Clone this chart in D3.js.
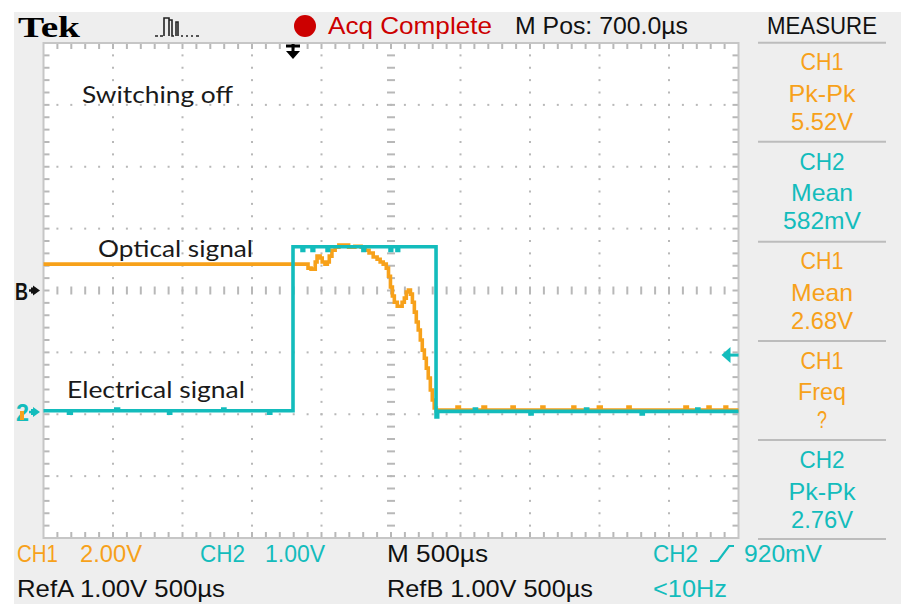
<!DOCTYPE html>
<html><head><meta charset="utf-8">
<script src="https://cdn.jsdelivr.net/npm/d3@7"></script>
<style>html,body{margin:0;padding:0;background:#fff;} svg{display:block;}</style>
</head><body>
<svg id="c" width="901" height="604"></svg>
<script>
// ---------- DATA ----------
const timePerDivUs = 500;       // M 500µs
const numDivX = 10;
const numDivY = 8;
const ch1VoltsPerDiv = 2.0;     // CH1 2.00V
const ch2VoltsPerDiv = 1.0;     // CH2 1.00V
const ch1OffsetDiv = -1.964;
const ch2OffsetDiv = -1.964;
const refBOffsetDiv = 0;
const triggerTimeUs = 1795;
const triggerLevelV = 0.92;     // 920mV

// CH1 (optical signal) [time µs, volts]
const ch1Trace = [
  [0,4.78],[1903,4.65],[1925,4.62],[1955,4.85],[1968,5.04],[1990,4.98],[2005,4.85],[2025,4.78],
  [2042,4.85],[2056,5.04],[2075,5.23],[2098,5.33],[2125,5.40],[2195,5.33],[2240,5.36],[2285,5.33],
  [2315,5.23],[2342,5.14],[2372,5.01],[2400,4.94],[2422,4.85],[2444,4.78],[2466,4.65],[2482,4.39],
  [2496,4.04],[2510,3.75],[2524,3.55],[2545,3.42],[2580,3.55],[2596,3.68],[2610,3.88],[2625,3.94],
  [2640,3.81],[2654,3.55],[2668,3.23],[2682,2.91],[2696,2.65],[2711,2.33],[2725,2.00],[2740,1.74],
  [2754,1.42],[2768,1.10],[2783,0.71],[2797,0.39],[2811,0.13],[2826,0.03],[2846,0.06],
  [2975,0.16],[2992,0.06],[3162,0.16],[3180,0.06],[3371,0.16],[3386,0.06],[3586,0.16],[3600,0.06],
  [3809,0.16],[3822,0.06],[3992,0.16],[4012,0.06],[4205,0.16],[4220,0.06],[4615,0.16],[4632,0.06],
  [4781,0.16],[4795,0.06],[4903,0.16],[4915,0.06],[5000,0.06]
];

// CH2 (electrical signal) [time µs, volts]
const ch2Trace = [
  [0,0.02],[180,-0.02],[200,0.02],[520,0.05],[540,0.02],[900,-0.02],[915,0.02],[1290,0.05],
  [1305,0.02],[1620,-0.02],[1635,0.02],[1795,2.67],[1860,2.61],[1872,2.67],[1932,2.61],[1944,2.67],
  [2040,2.61],[2052,2.67],[2298,2.61],[2310,2.67],[2493,2.61],[2505,2.67],[2543,2.61],[2555,2.67],
  [2824,-0.08],[2836,0.01],[3100,0.05],[3115,0.01],[3500,-0.03],[3515,0.01],[3900,0.05],[3915,0.01],
  [4300,-0.03],[4315,0.01],[4700,0.05],[4715,0.01],[5000,0.01]
];

const measureChannels = ["CH1","CH2","CH1","CH1","CH2"];
const measureTypes    = ["Pk-Pk","Mean","Mean","Freq","Pk-Pk"];
const measureValues   = ["5.52V","582mV","2.68V","?","2.76V"];

const annotations = ["Switching off","Optical signal","Electrical signal"];

// ---------- STYLE ----------
const ORANGE = "#f7a11a", CYAN = "#13bcbc", RED = "#cc0000", GRID = "#b8b8b8", PANEL = "#eeeeee";
const FONT = "'Liberation Sans', Arial, sans-serif";

const svg = d3.select("#c");
svg.append("rect").attr("width",901).attr("height",604).attr("fill","#fff");
svg.append("rect").attr("x",14).attr("y",12).attr("width",887).attr("height",592).attr("fill",PANEL);

const L = 43.5, R = 738.5, T = 43, B = 538;
const x = d3.scaleLinear().domain([0, timePerDivUs*numDivX]).range([L, R]);
const y = d3.scaleLinear().domain([-numDivY/2, numDivY/2]).range([B, T]);

svg.append("rect").attr("x",L).attr("y",T).attr("width",R-L).attr("height",B-T).attr("fill","#fff");

const g = svg.append("g");
const minorX = d3.range(1, numDivX*5).map(i => i*timePerDivUs/5);
const minorY = d3.range(1, numDivY*5).map(i => -numDivY/2 + i/5);
const centerT = timePerDivUs*numDivX/2;

// dotted grid
d3.range(1, numDivX).forEach(k => {
  const t = k*timePerDivUs;
  if (t === centerT) return;
  minorY.forEach(v => g.append("rect").attr("x",x(t)-1).attr("y",y(v)-1).attr("width",2).attr("height",2).attr("fill",GRID));
});
d3.range(-numDivY/2+1, numDivY/2).forEach(k => {
  if (k === 0) return;
  minorX.forEach(t => g.append("rect").attr("x",x(t)-1).attr("y",y(k)-1).attr("width",2).attr("height",2).attr("fill",GRID));
});
// center dashes
minorY.forEach(v => g.append("line").attr("x1",x(centerT)-4).attr("x2",x(centerT)+4).attr("y1",y(v)).attr("y2",y(v)).attr("stroke",GRID).attr("stroke-width",2));
minorX.forEach(t => g.append("line").attr("x1",x(t)).attr("x2",x(t)).attr("y1",y(0)-4).attr("y2",y(0)+4).attr("stroke",GRID).attr("stroke-width",2));
// border ticks
minorX.forEach(t => {
  g.append("line").attr("x1",x(t)).attr("x2",x(t)).attr("y1",T).attr("y2",T+6).attr("stroke",GRID).attr("stroke-width",2);
  g.append("line").attr("x1",x(t)).attr("x2",x(t)).attr("y1",B-6).attr("y2",B).attr("stroke",GRID).attr("stroke-width",2);
});
minorY.forEach(v => {
  g.append("line").attr("x1",L).attr("x2",L+6).attr("y1",y(v)).attr("y2",y(v)).attr("stroke",GRID).attr("stroke-width",2);
  g.append("line").attr("x1",R-6).attr("x2",R).attr("y1",y(v)).attr("y2",y(v)).attr("stroke",GRID).attr("stroke-width",2);
});
svg.append("rect").attr("x",L).attr("y",T).attr("width",R-L).attr("height",B-T)
  .attr("fill","none").attr("stroke","#c6c6c6").attr("stroke-width",2);

// traces
const line1 = d3.line().x(d => x(d[0])).y(d => y(ch1OffsetDiv + d[1]/ch1VoltsPerDiv)).curve(d3.curveStepAfter);
const line2 = d3.line().x(d => x(d[0])).y(d => y(ch2OffsetDiv + d[1]/ch2VoltsPerDiv)).curve(d3.curveStepAfter);
svg.append("path").attr("d",line1(ch1Trace)).attr("fill","none").attr("stroke",ORANGE).attr("stroke-width",3.6);
svg.append("path").attr("d",line2(ch2Trace)).attr("fill","none").attr("stroke",CYAN).attr("stroke-width",3.6);

// text helper
function txt(s, px, py, opts) {
  opts = opts || {};
  const t = svg.append("text").attr("x",px).attr("y",py).text(s)
    .attr("font-family", opts.family || FONT).attr("font-size", opts.size || 24)
    .attr("fill", opts.fill || "#111").attr("text-anchor", opts.anchor || "start");
  if (opts.weight) t.attr("font-weight", opts.weight);
  if (opts.w) t.attr("textLength", opts.w).attr("lengthAdjust","spacingAndGlyphs");
  return t;
}

// header
txt("Tek", 18, 37, {family:"'Liberation Serif','DejaVu Serif',serif", weight:"bold", size:30, w:62, fill:"#000"});
svg.append("path").attr("d","M155,36 H158 M160,36 H163 M164,36 V18 H169 V36 M169,20 H172 V36 H174 M176,36 V22 H178 V36 M181,36 H183 M186,36 H188 M191,36 H193 M196,36 H199")
  .attr("fill","none").attr("stroke","#222").attr("stroke-width",1.6);
svg.append("circle").attr("cx",305).attr("cy",26).attr("r",11).attr("fill",RED);
txt("Acq Complete", 328, 33.5, {fill:RED, w:164});
txt("M Pos: 700.0µs", 515, 33.5, {fill:"#111", w:173});
txt("MEASURE", 767, 33.5, {fill:"#111", w:110});

// trigger position marker
const tx = x(triggerTimeUs);
svg.append("line").attr("x1",tx-7).attr("x2",tx+7).attr("y1",46).attr("y2",46).attr("stroke","#000").attr("stroke-width",3);
svg.append("line").attr("x1",tx).attr("x2",tx).attr("y1",44).attr("y2",53).attr("stroke","#000").attr("stroke-width",3);
svg.append("path").attr("d",`M${tx-7},51 L${tx+7},51 L${tx},59 Z`).attr("fill","#000");

// trigger level marker (right)
const ty = y(ch2OffsetDiv + triggerLevelV/ch2VoltsPerDiv);
svg.append("path").attr("d",`M${R-17},${ty} L${R-8},${ty-8} L${R-8},${ty+8} Z`).attr("fill",CYAN);
svg.append("line").attr("x1",R-9).attr("x2",R).attr("y1",ty).attr("y2",ty).attr("stroke",CYAN).attr("stroke-width",3);

// left markers
const by = y(refBOffsetDiv);
txt("B", 15, by+9, {size:24, w:13, weight:"bold", fill:"#111"});
svg.append("path").attr("d",`M33,${by-5} L40,${by} L33,${by+5} Z`).attr("fill","#111");
svg.append("line").attr("x1",29).attr("x2",35).attr("y1",by).attr("y2",by).attr("stroke","#111").attr("stroke-width",2.5);
svg.append("line").attr("x1",32).attr("x2",32).attr("y1",by-3).attr("y2",by+3).attr("stroke","#111").attr("stroke-width",2);
const c2y = y(ch2OffsetDiv);
txt("2", 16, c2y+9, {size:24, w:13, weight:"bold", fill:CYAN});
// CH1 ground marker hidden behind the CH2 marker: only an orange sliver shows
svg.append("rect").attr("x",20).attr("y",c2y-1).attr("width",4).attr("height",9).attr("fill",ORANGE);
svg.append("path").attr("d",`M33,${c2y-5} L40,${c2y} L33,${c2y+5} Z`).attr("fill",CYAN);
svg.append("line").attr("x1",29).attr("x2",35).attr("y1",c2y).attr("y2",c2y).attr("stroke",CYAN).attr("stroke-width",2.5);
svg.append("line").attr("x1",32).attr("x2",32).attr("y1",c2y-3).attr("y2",c2y+3).attr("stroke",CYAN).attr("stroke-width",2);

// annotations
const AF = "Lato, 'Open Sans', sans-serif";
txt(annotations[0], 82, 103, {family:AF, size:23, w:151, fill:"#1a1a1a"});
txt(annotations[1], 98, 257, {family:AF, size:23, w:155, fill:"#1a1a1a"});
txt(annotations[2], 67, 398, {family:AF, size:23, w:178, fill:"#1a1a1a"});

// measure panel
const sepY = [42.7, 141.7, 241.7, 341, 440, 539];
sepY.forEach(sy => svg.append("line").attr("x1",758).attr("x2",886).attr("y1",sy).attr("y2",sy).attr("stroke","#bcbcbc").attr("stroke-width",2));
const widths = {"CH1":43,"CH2":45,"Pk-Pk":67,"Mean":62,"Freq":48,"?":10,"5.52V":62,"582mV":78,"2.68V":62,"2.76V":62};
measureChannels.forEach((ch, i) => {
  const col = ch === "CH1" ? ORANGE : CYAN;
  const base = 70 + 99.5*i;
  txt(ch, 822, base, {anchor:"middle", fill:col, w:widths[ch]});
  txt(measureTypes[i], 822, base+31.5, {anchor:"middle", fill:col, w:widths[measureTypes[i]]});
  txt(measureValues[i], 822, base+59.5, {anchor:"middle", fill:col, w:widths[measureValues[i]]});
});

// bottom status
txt("CH1", 17, 562, {fill:ORANGE, w:41});
txt("2.00V", 80, 562, {fill:ORANGE, w:62});
txt("CH2", 200, 562, {fill:CYAN, w:45});
txt("1.00V", 265, 562, {fill:CYAN, w:60});
txt("M 500µs", 387, 562, {fill:"#111", w:101});
txt("CH2", 653, 562, {fill:CYAN, w:45});
svg.append("path").attr("d","M710,561 H718 L729,546 H734").attr("fill","none").attr("stroke",CYAN).attr("stroke-width",2.2);
txt("920mV", 744, 562, {fill:CYAN, w:78});
txt("RefA 1.00V 500µs", 17, 597, {fill:"#111", w:208});
txt("RefB 1.00V 500µs", 387, 597, {fill:"#111", w:206});
txt("<10Hz", 653, 597, {fill:CYAN, w:74});
</script>
</body></html>
